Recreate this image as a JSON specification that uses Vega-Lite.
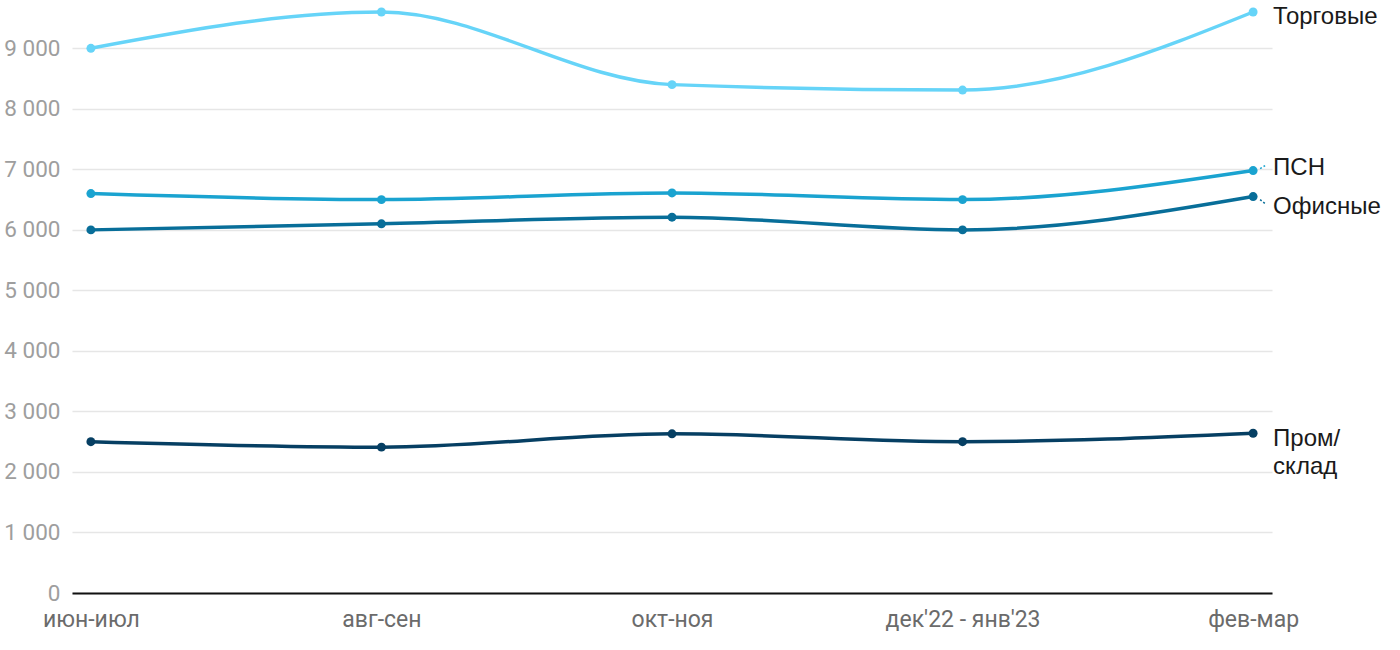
{
  "$schema": "https://vega.github.io/schema/vega-lite/v6.json",
  "width": 1200,
  "height": 581,
  "autosize": {"type": "none"},
  "padding": {"left": 72, "top": 12, "right": 128, "bottom": 57},
  "background": "white",
  "config": {"view": {"stroke": null}},
  "data": {"values": [
    {"period": "июн-июл", "series": "Торговые", "value": 9000},
    {"period": "авг-сен", "series": "Торговые", "value": 9600},
    {"period": "окт-ноя", "series": "Торговые", "value": 8400},
    {"period": "дек'22 - янв'23", "series": "Торговые", "value": 8310},
    {"period": "фев-мар", "series": "Торговые", "value": 9600},
    {"period": "июн-июл", "series": "ПСН", "value": 6600},
    {"period": "авг-сен", "series": "ПСН", "value": 6500},
    {"period": "окт-ноя", "series": "ПСН", "value": 6610},
    {"period": "дек'22 - янв'23", "series": "ПСН", "value": 6500},
    {"period": "фев-мар", "series": "ПСН", "value": 6980},
    {"period": "июн-июл", "series": "Офисные", "value": 6000},
    {"period": "авг-сен", "series": "Офисные", "value": 6100},
    {"period": "окт-ноя", "series": "Офисные", "value": 6210},
    {"period": "дек'22 - янв'23", "series": "Офисные", "value": 6000},
    {"period": "фев-мар", "series": "Офисные", "value": 6550},
    {"period": "июн-июл", "series": "Пром/склад", "value": 2500},
    {"period": "авг-сен", "series": "Пром/склад", "value": 2410},
    {"period": "окт-ноя", "series": "Пром/склад", "value": 2630},
    {"period": "дек'22 - янв'23", "series": "Пром/склад", "value": 2500},
    {"period": "фев-мар", "series": "Пром/склад", "value": 2640}
  ]},
  "encoding": {
    "x": {
      "field": "period", "type": "ordinal",
      "sort": ["июн-июл", "авг-сен", "окт-ноя", "дек'22 - янв'23", "фев-мар"],
      "scale": {"type": "point", "padding": 0.065},
      "axis": {
        "title": null, "labelAngle": 0, "ticks": false, "grid": false,
        "domainColor": "#111111", "domainWidth": 2,
        "labelFont": "Roboto", "labelFontSize": 23, "labelColor": "#6b6b6b",
        "labelPadding": 15
      }
    },
    "y": {
      "field": "value", "type": "quantitative",
      "scale": {"domain": [0, 9600], "nice": false},
      "axis": {
        "title": null, "values": [0, 1000, 2000, 3000, 4000, 5000, 6000, 7000, 8000, 9000],
        "labelExpr": "replace(format(datum.value, ','), ',', ' ')",
        "domain": false, "ticks": false, "gridColor": "#e6e6e6", "gridWidth": 1.5,
        "labelFont": "Roboto", "labelFontSize": 22.5, "labelColor": "#9e9e9e",
        "labelPadding": 12
      }
    },
    "color": {
      "field": "series", "type": "nominal",
      "scale": {"domain": ["Торговые", "ПСН", "Офисные", "Пром/склад"],
                "range": ["#66d4f8", "#1aa3d0", "#086e99", "#063f63"]},
      "legend": null
    }
  },
  "layer": [
    {"mark": {"type": "line", "interpolate": "monotone", "strokeWidth": 3.5}},
    {"mark": {"type": "point", "filled": true, "size": 80, "opacity": 1}},
    {
      "transform": [{"filter": "datum.period === 'фев-мар' && datum.series === 'ПСН'"}],
      "mark": {"type": "rule", "strokeWidth": 1.5, "strokeDash": [2, 2], "xOffset": 7, "x2Offset": 12, "yOffset": -2, "y2Offset": -5},
      "encoding": {"x2": {"field": "period"}, "y2": {"field": "value"}}
    },
    {
      "transform": [{"filter": "datum.period === 'фев-мар' && datum.series === 'Офисные'"}],
      "mark": {"type": "rule", "strokeWidth": 1.5, "strokeDash": [2, 2], "xOffset": 7, "x2Offset": 12, "yOffset": 3, "y2Offset": 7},
      "encoding": {"x2": {"field": "period"}, "y2": {"field": "value"}}
    },
    {
      "transform": [{"filter": "datum.period === 'фев-мар' && datum.series === 'Торговые'"}],
      "mark": {"type": "text", "align": "left", "baseline": "middle", "dx": 20, "dy": 5, "font": "Liberation Sans", "fontSize": 24},
      "encoding": {"text": {"field": "series"}, "color": {"value": "#1a1a1a"}}
    },
    {
      "transform": [{"filter": "datum.period === 'фев-мар' && datum.series === 'ПСН'"}],
      "mark": {"type": "text", "align": "left", "baseline": "middle", "dx": 20, "dy": -3, "font": "Liberation Sans", "fontSize": 24},
      "encoding": {"text": {"field": "series"}, "color": {"value": "#1a1a1a"}}
    },
    {
      "transform": [{"filter": "datum.period === 'фев-мар' && datum.series === 'Офисные'"}],
      "mark": {"type": "text", "align": "left", "baseline": "middle", "dx": 20, "dy": 10, "font": "Liberation Sans", "fontSize": 24},
      "encoding": {"text": {"field": "series"}, "color": {"value": "#1a1a1a"}}
    },
    {
      "transform": [{"filter": "datum.period === 'фев-мар' && datum.series === 'Пром/склад'"}],
      "mark": {"type": "text", "align": "left", "baseline": "middle", "dx": 20, "dy": 6, "font": "Liberation Sans", "fontSize": 24, "lineHeight": 28},
      "encoding": {"text": {"value": ["Пром/", "склад"]}, "color": {"value": "#1a1a1a"}}
    }
  ]
}
